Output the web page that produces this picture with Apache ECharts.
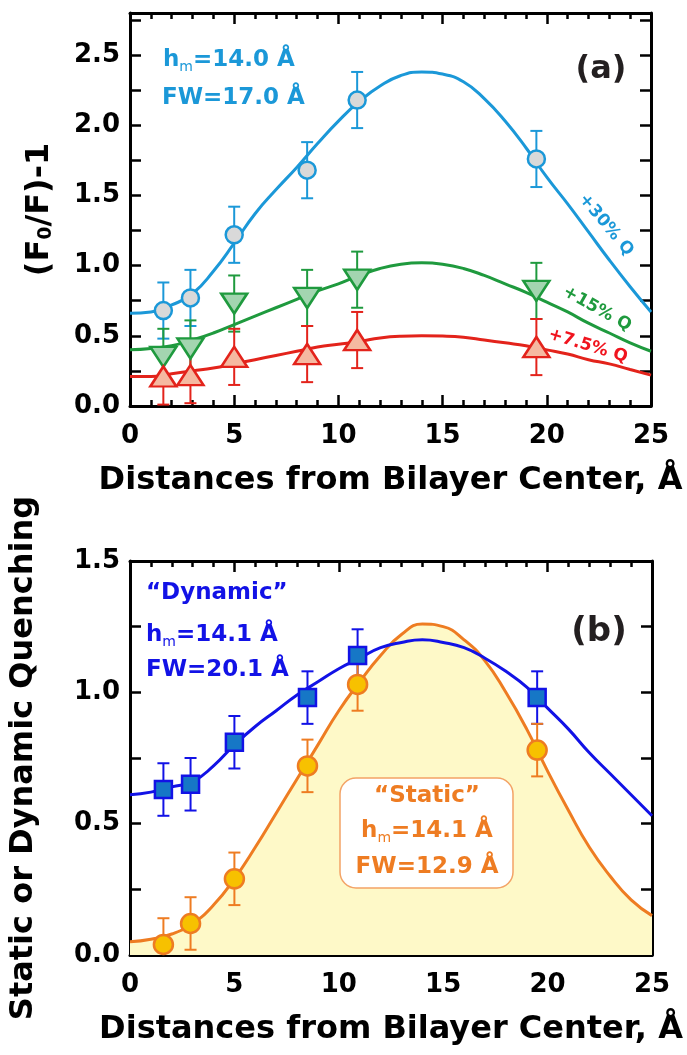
<!DOCTYPE html>
<html>
<head>
<meta charset="utf-8">
<title>Depth-dependent quenching</title>
<script src="https://cdn.jsdelivr.net/npm/echarts@6/dist/echarts.min.js"></script>
<style>
    html, body { margin: 0; padding: 0; background: #fff; }
    #wrap { position: relative; width: 687px; height: 1055px; }
    #panelA { position: absolute; left: 0; top: 0; width: 687px; height: 527px; }
    #panelB { position: absolute; left: 0; top: 480px; width: 687px; height: 575px; }
</style>
</head>
<body>
<div id="wrap">
    <div id="panelA"></div>
    <div id="panelB"></div>
</div>
<script>
// probe depths, distance from bilayer center (A)
var depths = [1.6, 2.9, 5.0, 8.5, 10.9, 19.5];

// panel (a): (F0/F)-1 for three quencher levels
var q30 = [0.68, 0.77, 1.22, 1.68, 2.18, 1.76];
var q15 = [0.35, 0.41, 0.73, 0.77, 0.90, 0.82];
var q75 = [0.21, 0.22, 0.35, 0.37, 0.47, 0.42];
var err30 = [0.2, 0.2, 0.2, 0.2, 0.2, 0.2];
var err15 = [0.2, 0.2, 0.2, 0.2, 0.2, 0.2];
var err75 = [0.2, 0.2, 0.2, 0.2, 0.2, 0.2];

// panel (b): dynamic and static quenching
var dynQ = [0.63, 0.65, 0.81, 0.98, 1.14, 0.98];
var statQ = [0.04, 0.12, 0.29, 0.72, 1.03, 0.78];
var errDyn = [0.1, 0.1, 0.1, 0.1, 0.1, 0.1];
var errStat = [0.1, 0.1, 0.1, 0.1, 0.1, 0.1];

// fitted profiles, one point per angstrom
var fitX = [0, 1, 2, 3, 4, 5, 6, 7, 8, 9, 10, 11, 12, 13, 14, 15, 16, 17, 18, 19, 20, 21, 22, 23, 24, 25];
var fit30 = [0.66, 0.67, 0.72, 0.80, 0.96, 1.16, 1.37, 1.54, 1.70, 1.87, 2.03, 2.17, 2.28, 2.355, 2.38, 2.365, 2.31, 2.19, 2.03, 1.84, 1.63, 1.44, 1.24, 1.04, 0.85, 0.67];
var fit15 = [0.40, 0.41, 0.43, 0.47, 0.52, 0.58, 0.64, 0.70, 0.76, 0.82, 0.87, 0.93, 0.98, 1.01, 1.02, 1.01, 0.98, 0.93, 0.87, 0.81, 0.74, 0.67, 0.59, 0.52, 0.45, 0.39];
var fit75 = [0.21, 0.21, 0.23, 0.25, 0.27, 0.30, 0.33, 0.36, 0.39, 0.42, 0.44, 0.46, 0.485, 0.497, 0.50, 0.498, 0.49, 0.47, 0.45, 0.43, 0.40, 0.37, 0.33, 0.30, 0.26, 0.22];
var fitDyn = [0.61, 0.62, 0.64, 0.66, 0.72, 0.80, 0.87, 0.93, 0.99, 1.04, 1.09, 1.13, 1.17, 1.19, 1.20, 1.19, 1.17, 1.13, 1.08, 1.02, 0.94, 0.86, 0.77, 0.69, 0.61, 0.53];
var fitStat = [0.05, 0.06, 0.08, 0.12, 0.19, 0.29, 0.41, 0.54, 0.67, 0.80, 0.93, 1.04, 1.14, 1.22, 1.26, 1.25, 1.20, 1.12, 1.00, 0.86, 0.70, 0.55, 0.41, 0.30, 0.21, 0.15];

var FONT = '"DejaVu Sans", "Liberation Sans", Arial, sans-serif';
var blueA = '#1b98d8', greenA = '#1f9a3e', redA = '#e3231b';
var blueB = '#1212e6', orange = '#ee7c22';

function pairs(xs, ys) {
    return xs.map(function (x, i) { return [x, ys[i]]; });
}

// only label every other tick (0.0, 0.5, 1.0 ...)
function halfStep(v) {
    var r = Math.round(v * 2) / 2;
    return Math.abs(v - r) < 1e-6 ? v.toFixed(1) : '';
}

function xAx(pos, name) {
    return {
        type: 'value', position: pos, min: 0, max: 25, interval: 5,
        axisLine: { show: true, onZero: false, lineStyle: { color: '#000', width: 3 } },
        axisTick: { show: true, inside: true, length: 11, lineStyle: { color: '#000', width: 2.5 } },
        minorTick: { show: true, splitNumber: 5, length: 6, lineStyle: { color: '#000', width: 2.5 } },
        axisLabel: { show: pos === 'bottom', margin: 17, color: '#000', fontSize: 26, fontWeight: 'bold', fontFamily: FONT },
        splitLine: { show: false },
        name: name, nameLocation: 'middle', nameGap: 59,
        nameTextStyle: { color: '#000', fontSize: 32, fontWeight: 'bold', fontFamily: FONT }
    };
}

function yAx(pos, max, name, gap, rich) {
    var ax = {
        type: 'value', position: pos, min: 0, max: max, interval: 0.25,
        axisLine: { show: true, onZero: false, lineStyle: { color: '#000', width: 3 } },
        axisTick: { show: true, inside: true, length: 11, lineStyle: { color: '#000', width: 2.5 } },
        axisLabel: { show: pos === 'left', margin: 10, color: '#000', fontSize: 26, fontWeight: 'bold', fontFamily: FONT, formatter: halfStep },
        splitLine: { show: false },
        name: name, nameLocation: 'middle', nameGap: gap, nameRotate: 90,
        nameTextStyle: { color: '#000', fontSize: 32, fontWeight: 'bold', fontFamily: FONT }
    };
    if (rich) ax.nameTextStyle.rich = rich;
    return ax;
}

function curve(ys, color, extra) {
    var s = {
        type: 'line', data: pairs(fitX, ys),
        smooth: true, showSymbol: false, symbol: 'none', silent: true,
        lineStyle: { color: color, width: 3 }, z: 2
    };
    for (var k in extra) s[k] = extra[k];
    return s;
}

function errorBars(ys, errs, color) {
    return {
        type: 'custom', clip: true, z: 3,
        data: depths.map(function (x, i) { return [x, ys[i], errs[i]]; }),
        renderItem: function (params, api) {
            var x = api.value(0), y = api.value(1), e = api.value(2);
            var top = api.coord([x, y + e]);
            var bot = api.coord([x, y - e]);
            var w = 6;
            var st = { stroke: color, lineWidth: 2 };
            return {
                type: 'group', children: [
                    { type: 'line', shape: { x1: top[0], y1: top[1], x2: bot[0], y2: bot[1] }, style: st },
                    { type: 'line', shape: { x1: top[0] - w, y1: top[1], x2: top[0] + w, y2: top[1] }, style: st },
                    { type: 'line', shape: { x1: bot[0] - w, y1: bot[1], x2: bot[0] + w, y2: bot[1] }, style: st }
                ]
            };
        }
    };
}

function points(ys, symbol, size, fill, stroke, rot) {
    return {
        type: 'scatter', data: pairs(depths, ys),
        symbol: symbol, symbolSize: size, symbolRotate: rot || 0, z: 4,
        itemStyle: { color: fill, borderColor: stroke, borderWidth: 2.5, opacity: 1 }
    };
}

function txt(x, y, parts, size, color, opts) {
    opts = opts || {};
    var rich = {
        b: { fontSize: size, fontWeight: 'bold', fontFamily: FONT, fill: color, lineHeight: size + 6, verticalAlign: 'middle' },
        s: { fontSize: Math.round(size * 0.62), fontWeight: 'normal', fontFamily: FONT, fill: color, lineHeight: Math.round(size * 0.62), verticalAlign: 'bottom' }
    };
    return {
        type: 'text', x: x, y: y, z: 20, rotation: opts.rot || 0,
        style: { text: parts, rich: rich, align: opts.align || 'left', verticalAlign: 'middle' }
    };
}

var subRich = {
    s: { fontSize: 19, fontWeight: 'bold', fontFamily: FONT, color: '#000', verticalAlign: 'bottom', lineHeight: 19 }
};

var deg = Math.PI / 180;

var chartA = echarts.init(document.getElementById('panelA'));
chartA.setOption({
    animation: false,
    grid: { left: 130, right: 36, top: 13, height: 393, outerBoundsMode: 'none' },
    xAxis: [xAx('bottom', 'Distances from Bilayer Center, Å'), xAx('top', '')],
    yAxis: [yAx('left', 2.8, '(F{s|0}/F)-1', 74, subRich), yAx('right', 2.8, '', 0)],
    series: [
        curve(fit30, blueA),
        curve(fit15, greenA),
        curve(fit75, redA),
        errorBars(q30, err30, blueA),
        errorBars(q15, err15, greenA),
        errorBars(q75, err75, redA),
        points(q30, 'circle', 17, '#d9d9d9', blueA),
        points(q15, 'triangle', [26, 20], '#a3d5b0', greenA, 180),
        points(q75, 'triangle', [26, 20], '#f5b9a1', redA)
    ],
    graphic: [
        txt(163, 60, '{b|h}{s|m}{b|=14.0 Å}', 23, blueA),
        txt(162, 98, '{b|FW=17.0 Å}', 23, blueA),
        txt(601, 70, '{b|(a)}', 32, '#231f20', { align: 'center' }),
        txt(606, 225, '{b|+30% Q}', 17, blueA, { align: 'center', rot: -50 * deg }),
        txt(597, 309, '{b|+15% Q}', 17, greenA, { align: 'center', rot: -29 * deg }),
        txt(588, 346, '{b|+7.5% Q}', 17, '#f0141e', { align: 'center', rot: -17 * deg })
    ]
});

// panel (b) canvas starts at y = 480 of the page and is transparent
var chartB = echarts.init(document.getElementById('panelB'));
chartB.setOption({
    animation: false,
    grid: { left: 130, right: 35, top: 81, height: 394, outerBoundsMode: 'none' },
    xAxis: [xAx('bottom', 'Distances from Bilayer Center, Å'), xAx('top', '')],
    yAxis: [yAx('left', 1.5, 'Static or Dynamic Quenching', 90), yAx('right', 1.5, '', 0)],
    series: [
        curve(fitStat, orange, { areaStyle: { color: '#fef9c8', opacity: 1, origin: 'start' }, z: 1 }),
        curve(fitDyn, blueB),
        errorBars(dynQ, errDyn, blueB),
        errorBars(statQ, errStat, orange),
        points(dynQ, 'rect', 17, '#1677c6', blueB),
        points(statQ, 'circle', 19, '#f7c100', orange)
    ],
    graphic: [
        txt(146, 113, '{b|“Dynamic”}', 23, blueB),
        txt(146, 155, '{b|h}{s|m}{b|=14.1 Å}', 23, blueB),
        txt(146, 190, '{b|FW=20.1 Å}', 23, blueB),
        txt(599, 152, '{b|(b)}', 34, '#231f20', { align: 'center' }),
        {
            type: 'rect', z: 15,
            shape: { x: 340, y: 298, width: 173, height: 110, r: 16 },
            style: { fill: '#fff', stroke: '#f3a366', lineWidth: 1.5 }
        },
        txt(427, 316, '{b|“Static”}', 23, orange, { align: 'center' }),
        txt(427, 351, '{b|h}{s|m}{b|=14.1 Å}', 23, orange, { align: 'center' }),
        txt(427, 387, '{b|FW=12.9 Å}', 23, orange, { align: 'center' })
    ]
});
</script>
</body>
</html>
